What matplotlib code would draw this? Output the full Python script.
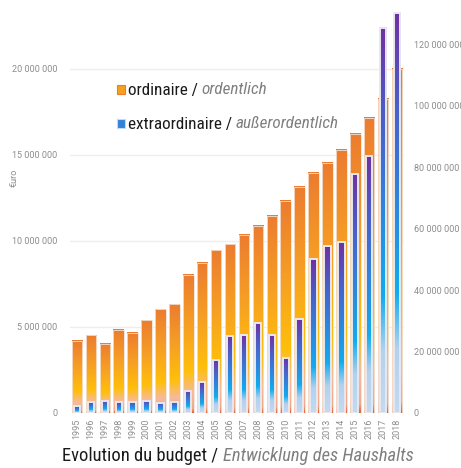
import numpy as np
import matplotlib
matplotlib.use("Agg")
import matplotlib.pyplot as plt
from matplotlib.colors import LinearSegmentedColormap
from matplotlib import font_manager

years = list(range(1995, 2019))
# ordinary budget, left axis (euro)
ordinaire = [4.20e6, 4.53e6, 4.03e6, 4.83e6, 4.65e6, 5.39e6, 6.03e6, 6.32e6,
             8.04e6, 8.74e6, 9.46e6, 9.81e6, 10.35e6, 10.87e6, 11.45e6, 12.33e6,
             13.14e6, 13.95e6, 14.53e6, 15.29e6, 16.22e6, 17.15e6, 18.26e6, 20.0e6]
# extraordinary budget, right axis (euro)
extra = [2.2e6, 3.7e6, 4.0e6, 3.5e6, 3.7e6, 4.0e6, 3.4e6, 3.6e6,
         7.2e6, 10.0e6, 17.4e6, 25.1e6, 25.3e6, 29.2e6, 25.3e6, 17.9e6,
         30.5e6, 50.0e6, 54.3e6, 55.5e6, 77.9e6, 83.7e6, 125.4e6, 130.1e6]
left_ticks = [0, 5e6, 10e6, 15e6, 20e6]
right_ticks = [0, 20e6, 40e6, 60e6, 80e6, 100e6, 120e6]

# pick a narrow face if one is installed
installed = {f.name for f in font_manager.fontManager.ttflist}
narrow = [f for f in ["Roboto Condensed", "Liberation Sans Narrow",
                      "Open Sans Condensed", "Noto Sans Display"] if f in installed]
FONT = narrow + ["Roboto", "DejaVu Sans"]
plt.rcParams["font.family"] = FONT
plt.rcParams["font.stretch"] = "condensed"
GRAY = "#8c8c8c"
scale = 1.0 if narrow else 0.88

cm_ord = LinearSegmentedColormap.from_list("ord", [
    (0.0, "#E5602F"), (0.03, "#F2A88A"), (0.14, "#F6BB9C"),
    (0.30, "#FFBF0A"), (0.62, "#F6A024"), (1.0, "#EC7C30")])
cm_ext = LinearSegmentedColormap.from_list("ext", [
    (0.0, "#C4DAF0"), (0.16, "#B3D2EE"), (0.30, "#10ACEE"),
    (0.55, "#3281DA"), (0.78, "#4D5CC6"), (1.0, "#7031A2")])

fig = plt.figure(figsize=(4.61, 4.68), dpi=100)
ax = fig.add_axes([70 / 461, 55 / 468, 334 / 461, 413 / 468])
ax2 = ax.twinx()
x = np.arange(len(years))
grad = np.linspace(0, 1, 256).reshape(-1, 1)


def gradient_bars(axis, values, width, cmap, edge, lw):
    for xi, v in zip(x, values):
        axis.imshow(grad, cmap=cmap, origin="lower", aspect="auto",
                    extent=(xi - width / 2, xi + width / 2, 0, v),
                    interpolation="bilinear", zorder=2)
    axis.bar(x, values, width=width, facecolor="none", edgecolor=edge,
             linewidth=lw, zorder=3)


gradient_bars(ax, ordinaire, 0.76, cm_ord, "#f3e2d6", 0.6)
gradient_bars(ax2, extra, 0.45, cm_ext, "#e8e8ee", 1.4)

ax.set_xlim(-0.5, len(years) - 0.5)
ax.set_ylim(0, 24e6)
ax2.set_ylim(0, 24e6 * 5.6)
ax.set_yticks(left_ticks)
ax.set_yticklabels([f"{int(t):,}".replace(",", " ") for t in left_ticks])
ax2.set_yticks(right_ticks)
ax2.set_yticklabels([f"{int(t):,}".replace(",", " ") for t in right_ticks])
ax.set_xticks(x)
ax.set_xticklabels([str(y) for y in years], rotation=90)
for a in (ax, ax2):
    a.tick_params(length=0, labelsize=6.5, labelcolor=GRAY)
    for s in a.spines.values():
        s.set_visible(False)
    for lbl in a.get_xticklabels() + a.get_yticklabels():
        lbl.set_fontfamily(["Roboto", "DejaVu Sans"])
        lbl.set_fontstretch("normal")
ax.tick_params(axis="y", pad=9)
ax2.tick_params(axis="y", pad=7)
ax.tick_params(axis="x", pad=4)
ax.yaxis.grid(True, color="#eeeeee", linewidth=1)
ax.set_axisbelow(True)
ax.set_ylabel("€uro", color=GRAY, fontsize=6.5, family=["Roboto", "DejaVu Sans"])
ax.yaxis.set_label_coords(-0.155, 0.57)

renderer = fig.canvas.get_renderer()


def two_part(xp, yp, a, b, size, ha="left"):
    t1 = fig.text(xp, yp, a, fontsize=size, color="#1a1a1a", va="center")
    w1 = t1.get_window_extent(renderer).width / fig.bbox.width
    t2 = fig.text(xp + w1, yp, b, fontsize=size, color="#7f7f7f",
                  style="italic", va="center")
    w2 = t2.get_window_extent(renderer).width / fig.bbox.width
    if ha == "center":
        shift = (w1 + w2) / 2
        t1.set_x(xp - shift)
        t2.set_x(xp - shift + w1)


# legend swatches and labels
fig.patches.append(plt.Rectangle((117 / 461, 1 - 94 / 468), 8 / 461, 9 / 468,
                                 transform=fig.transFigure, facecolor="#F5A020",
                                 edgecolor="#EC7C30", linewidth=0.8))
fig.patches.append(plt.Rectangle((117 / 461, 1 - 128 / 468), 8 / 461, 9 / 468,
                                 transform=fig.transFigure, facecolor="#3281DA",
                                 edgecolor="#C4DAF0", linewidth=0.8))
two_part(128 / 461, 1 - 90 / 468, "ordinaire / ", "ordentlich", 12.3 * scale)
two_part(128 / 461, 1 - 124 / 468, "extraordinaire / ", "außerordentlich", 12.3 * scale)

two_part(238 / 461, 1 - 456 / 468, "Evolution du budget / ", "Entwicklung des Haushalts",
         13.3 * scale, ha="center")

fig.savefig("out.png", dpi=100)
